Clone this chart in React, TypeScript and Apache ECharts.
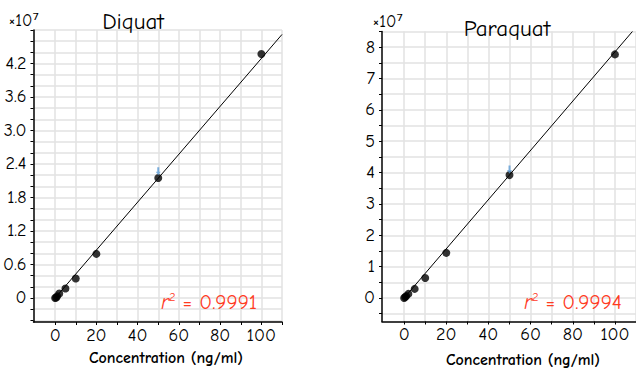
import React, { useEffect, useRef } from "react";
import * as echarts from "echarts";

// Concentration (ng/ml)
const concentrations = [0, 0.5, 1, 2, 5, 10, 20, 50, 100];
// Peak response, in units of 10^7
const diquatResponse = [0, 0.01, 0.03, 0.08, 0.17, 0.35, 0.79, 2.15, 4.37];
const paraquatResponse = [0, 0.03, 0.06, 0.13, 0.29, 0.64, 1.44, 3.92, 7.77];
// Regression line end points
const diquatFit = [[0, 0], [110, 4.72]];
const paraquatFit = [[0, 0], [108.3, 8.5]];
// Flagged (blue arrow) points
const diquatFlag = [[50, 2.27]];
const paraquatFlag = [[50, 4.1]];
const diquatR2 = "0.9991";
const paraquatR2 = "0.9994";

const xTicks = [0, 10, 20, 30, 40, 50, 60, 70, 80, 90, 100, 110];
const xLabels = [0, 20, 40, 60, 80, 100];
const diquatYTicks = [-0.4, -0.2, 0, 0.2, 0.4, 0.6, 0.8, 1.0, 1.2, 1.4, 1.6, 1.8, 2.0, 2.2, 2.4, 2.6, 2.8, 3.0, 3.2, 3.4, 3.6, 3.8, 4.0, 4.2, 4.4, 4.6, 4.8];
const diquatYLabels = [0, 0.6, 1.2, 1.8, 2.4, 3.0, 3.6, 4.2];
const paraquatYTicks = [-0.5, 0, 0.5, 1, 1.5, 2, 2.5, 3, 3.5, 4, 4.5, 5, 5.5, 6, 6.5, 7, 7.5, 8, 8.5];
const paraquatYLabels = [0, 1, 2, 3, 4, 5, 6, 7, 8];

const FONT = '"Comic Sans MS", "Comic Neue", "DejaVu Sans", sans-serif';
const RED = "#ff3b1f";
const GRIDC = "#e2e2e2";
const ARROW = "path://M1,0 L3,0 L3,5 L4.5,5 L2,9 L-0.5,5 L1,5 Z";

function xAxis(gridIndex: number) {
  return {
    type: "value",
    gridIndex,
    min: -10.5,
    max: 110,
    axisLine: { show: true, onZero: false, lineStyle: { color: "#000", width: 1.5 } },
    axisTick: { show: true, length: 3, customValues: xTicks, lineStyle: { color: "#000" } },
    axisLabel: {
      customValues: xLabels,
      color: "#000",
      fontSize: 18,
      fontFamily: FONT,
      margin: 4,
    },
    splitLine: { show: true, lineStyle: { color: GRIDC, width: 1.5 } },
  };
}

function yAxis(gridIndex: number, min: number, max: number, ticks: number[], labels: number[], fmt: (v: number) => string) {
  return {
    type: "value",
    gridIndex,
    min,
    max,
    axisLine: { show: true, onZero: false, lineStyle: { color: "#000", width: 1.5 } },
    axisTick: { show: true, length: 3, customValues: ticks, lineStyle: { color: "#000" } },
    axisLabel: {
      customValues: labels,
      color: "#000",
      fontSize: 18,
      fontFamily: FONT,
      margin: 7,
      formatter: fmt,
    },
    splitLine: { show: true, lineStyle: { color: GRIDC, width: 1.5 } },
  };
}

function pairs(xs: number[], ys: number[]) {
  return xs.map((x, i) => [x, ys[i]]);
}

function r2Text(x: number, y: number, val: string) {
  return {
    type: "text",
    left: x,
    top: y,
    z: 100,
    style: {
      text: "{r|r}{s|2}{n| = " + val + "}",
      rich: {
        r: { fontSize: 21, fontStyle: "italic", fill: RED, fontFamily: FONT },
        s: { fontSize: 12, fill: RED, fontFamily: FONT, verticalAlign: "top", padding: [0, 0, 9, 0] },
        n: { fontSize: 21, fill: RED, fontFamily: FONT },
      },
    },
  };
}

function text(x: number, y: number, t: string, size: number, extra: any = {}) {
  return {
    type: "text",
    x,
    y,
    z: 100,
    style: { text: t, fontSize: size, fontFamily: FONT, fill: "#000", align: "center", verticalAlign: "middle", ...extra },
  };
}

export default function App() {
  const ref = useRef<HTMLDivElement>(null);
  useEffect(() => {
    const chart = echarts.init(ref.current!, null, { renderer: "svg" });
    chart.setOption({
      animation: false,
      backgroundColor: "#fff",
      grid: [
        { left: 26, top: 30, width: 256, height: 292 },
        { left: 382, top: 31.5, width: 257, height: 290 },
      ],
      xAxis: [xAxis(0), xAxis(1)],
      yAxis: [
        yAxis(0, -0.43, 4.8, diquatYTicks, diquatYLabels, (v: number) => (v === 0 ? "0" : v.toFixed(1))),
        yAxis(1, -0.75, 8.5, paraquatYTicks, paraquatYLabels, (v: number) => String(v)),
      ],
      series: [
        {
          type: "line",
          xAxisIndex: 0,
          yAxisIndex: 0,
          data: diquatFit,
          symbol: "none",
          lineStyle: { color: "#000", width: 1 },
          clip: true,
        },
        {
          type: "line",
          xAxisIndex: 1,
          yAxisIndex: 1,
          data: paraquatFit,
          symbol: "none",
          lineStyle: { color: "#000", width: 1 },
          clip: true,
        },
        {
          type: "scatter",
          xAxisIndex: 0,
          yAxisIndex: 0,
          data: pairs(concentrations, diquatResponse),
          symbolSize: 8,
          itemStyle: { color: "#000" },
        },
        {
          type: "scatter",
          xAxisIndex: 1,
          yAxisIndex: 1,
          data: pairs(concentrations, paraquatResponse),
          symbolSize: 8,
          itemStyle: { color: "#000" },
        },
        {
          type: "scatter",
          xAxisIndex: 0,
          yAxisIndex: 0,
          data: diquatFlag,
          symbol: ARROW,
          symbolSize: [5, 8],
          itemStyle: { color: "#5b9bd5" },
        },
        {
          type: "scatter",
          xAxisIndex: 1,
          yAxisIndex: 1,
          data: paraquatFlag,
          symbol: ARROW,
          symbolSize: [5, 8],
          itemStyle: { color: "#5b9bd5" },
        },
      ],
      graphic: [
        text(133, 21, "Diquat", 23),
        text(507, 28, "Paraquat", 23),
        text(24, 20, "×10⁷", 17),
        text(388, 21, "×10⁷", 17),
        text(166, 358, "Concentration (ng/ml)", 16, { fontWeight: "bold" }),
        text(523, 360, "Concentration (ng/ml)", 16, { fontWeight: "bold" }),
        r2Text(161, 291, diquatR2),
        r2Text(524, 291, paraquatR2),
      ],
    });
    return () => chart.dispose();
  }, []);
  return <div ref={ref} style={{ position: "fixed", left: 0, top: 0, width: 636, height: 369 }} />;
}
